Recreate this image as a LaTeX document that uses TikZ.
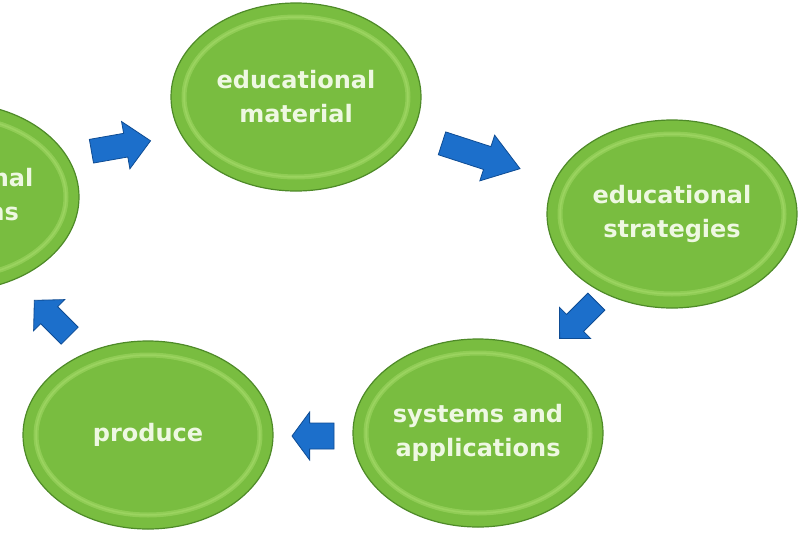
\documentclass[tikz,border=0pt]{standalone}
\usepackage{fontspec}
\setmainfont{DejaVu Sans}
\usetikzlibrary{shapes.geometric}
\definecolor{gfill}{HTML}{79BD40}
\definecolor{gedge}{HTML}{4E8A28}
\definecolor{gring}{HTML}{A3DA68}
\definecolor{gtext}{HTML}{EEF8E2}
\definecolor{afill}{HTML}{1C6FCB}
\definecolor{aedge}{HTML}{0E4C94}
\tikzset{
  blob/.style={ellipse, fill=gfill, draw=gedge, line width=1.2pt,
    minimum width=250pt, minimum height=188pt, inner sep=0pt,
    text=gtext, font=\bfseries\fontsize{24}{34}\selectfont, align=center,
    path picture={\draw[gring, line width=5pt, opacity=0.55]
      (path picture bounding box.center) ellipse [x radius=112pt, y radius=80pt];
      \draw[gring, line width=1.5pt, opacity=0.6]
      (path picture bounding box.center) ellipse [x radius=112pt, y radius=80pt];}},
  barrow/.style={fill=afill, draw=aedge, line width=0.8pt, line join=miter}
}
\newcommand{\blockarrow}[6]{% x y angle length shafthalf headhalf
  \begin{scope}[shift={(#1,#2)}, rotate=#3]
    \pgfmathsetmacro{\hl}{0.42*#4}
    \draw[barrow] (-#4/2,-#5) -- (#4/2-\hl,-#5) -- (#4/2-\hl,-#6) -- (#4/2,0)
      -- (#4/2-\hl,#6) -- (#4/2-\hl,#5) -- (-#4/2,#5) -- cycle;
  \end{scope}}
\begin{document}
\begin{tikzpicture}[x=1pt,y=-1pt]
\useasboundingbox (0,0) rectangle (800,533);
\clip (0,0) rectangle (800,533);
\fill[white] (0,0) rectangle (800,533);
\node[blob] (mat) at (296,97) {educational\\material};
\node[blob] (str) at (672,214) {educational\\strategies};
\node[blob] (sys) at (478,433) {systems and\\applications};
\node[blob] (pro) at (148,435) {produce};
\node[blob] (lft) at (-46,197) {educational\\programs};
\blockarrow{121}{146}{10}{60}{12}{24}
\blockarrow{481}{156}{-18}{82}{12}{24}
\blockarrow{578}{320}{-135}{52}{12}{22}
\blockarrow{313}{436}{180}{42}{13}{24}
\blockarrow{52}{318}{135}{50}{12}{22}
\end{tikzpicture}
\end{document}
